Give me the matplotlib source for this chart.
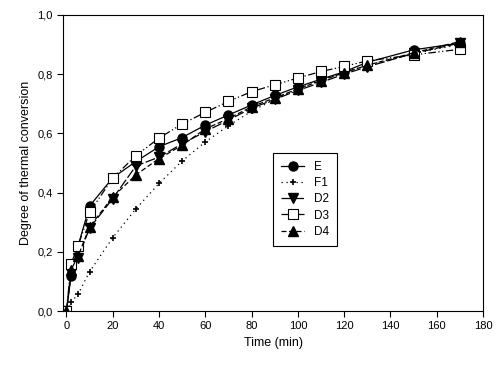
import matplotlib.pyplot as plt
from matplotlib.ticker import FuncFormatter

plt.rcParams['font.family'] = ['Liberation Sans', 'DejaVu Sans']

# Data
time = [0, 2, 5, 10, 20, 30, 40, 50, 60, 70, 80, 90, 100, 110, 120, 130, 150, 170]
E = [0, 0.12, 0.22, 0.355, 0.45, 0.505, 0.555, 0.586, 0.628, 0.662, 0.696, 0.728, 0.757, 0.783, 0.808, 0.840, 0.882, 0.905]
F1 = [0, 0.03, 0.057, 0.133, 0.248, 0.345, 0.431, 0.507, 0.571, 0.626, 0.675, 0.715, 0.75, 0.78, 0.805, 0.83, 0.87, 0.90]
D2 = [0, 0.13, 0.18, 0.28, 0.38, 0.49, 0.52, 0.565, 0.606, 0.645, 0.685, 0.715, 0.745, 0.772, 0.80, 0.825, 0.87, 0.905]
D3 = [0, 0.16, 0.22, 0.334, 0.449, 0.525, 0.584, 0.632, 0.671, 0.708, 0.741, 0.764, 0.787, 0.809, 0.826, 0.845, 0.865, 0.884]
D4 = [0, 0.14, 0.185, 0.285, 0.385, 0.46, 0.515, 0.56, 0.615, 0.65, 0.69, 0.72, 0.75, 0.778, 0.805, 0.83, 0.872, 0.91]

fig = plt.figure(figsize=(5, 3.73), dpi=100)
ax = fig.add_axes([0.126, 0.166, 0.84, 0.794])

ax.plot(time, E, color='black', lw=0.9, ls='-', marker='o', ms=6.5, label='E')
ax.plot(time, F1, color='black', lw=0.9, ls=(0, (1, 3)), marker='+', ms=4, mew=1.2, label='F1')
ax.plot(time, D2, color='black', lw=0.9, ls=(0, (8, 2)), marker='v', ms=6.5, label='D2')
ax.plot(time, D3, color='black', lw=0.9, ls=(0, (6, 2, 1, 2, 1, 2)), marker='s', ms=6.5,
        mfc='white', mew=0.8, label='D3')
ax.plot(time, D4, color='black', lw=0.9, ls=(0, (4, 2)), marker='^', ms=6.5, label='D4')

ax.set_xlim(-1.5, 180)
ax.set_ylim(0, 1.0)
ax.set_xticks(range(0, 181, 20))
ax.set_yticks([0, 0.2, 0.4, 0.6, 0.8, 1.0])
ax.yaxis.set_major_formatter(FuncFormatter(lambda v, p: f'{v:.1f}'.replace('.', ',')))
ax.tick_params(direction='out', length=4, width=0.8, labelsize=8, top=False, right=False)
for s in ax.spines.values():
    s.set_linewidth(0.8)

ax.set_xlabel('Time (min)', fontsize=9)
ax.set_ylabel('Degree of thermal conversion', fontsize=9)

leg = ax.legend(loc='lower left', bbox_to_anchor=(0.485, 0.2), fontsize=8.5, fancybox=False,
                edgecolor='black', framealpha=1, handlelength=2.0, borderpad=0.7, labelspacing=0.35)
leg.get_frame().set_linewidth(0.8)

fig.savefig('out.png', dpi=100)
